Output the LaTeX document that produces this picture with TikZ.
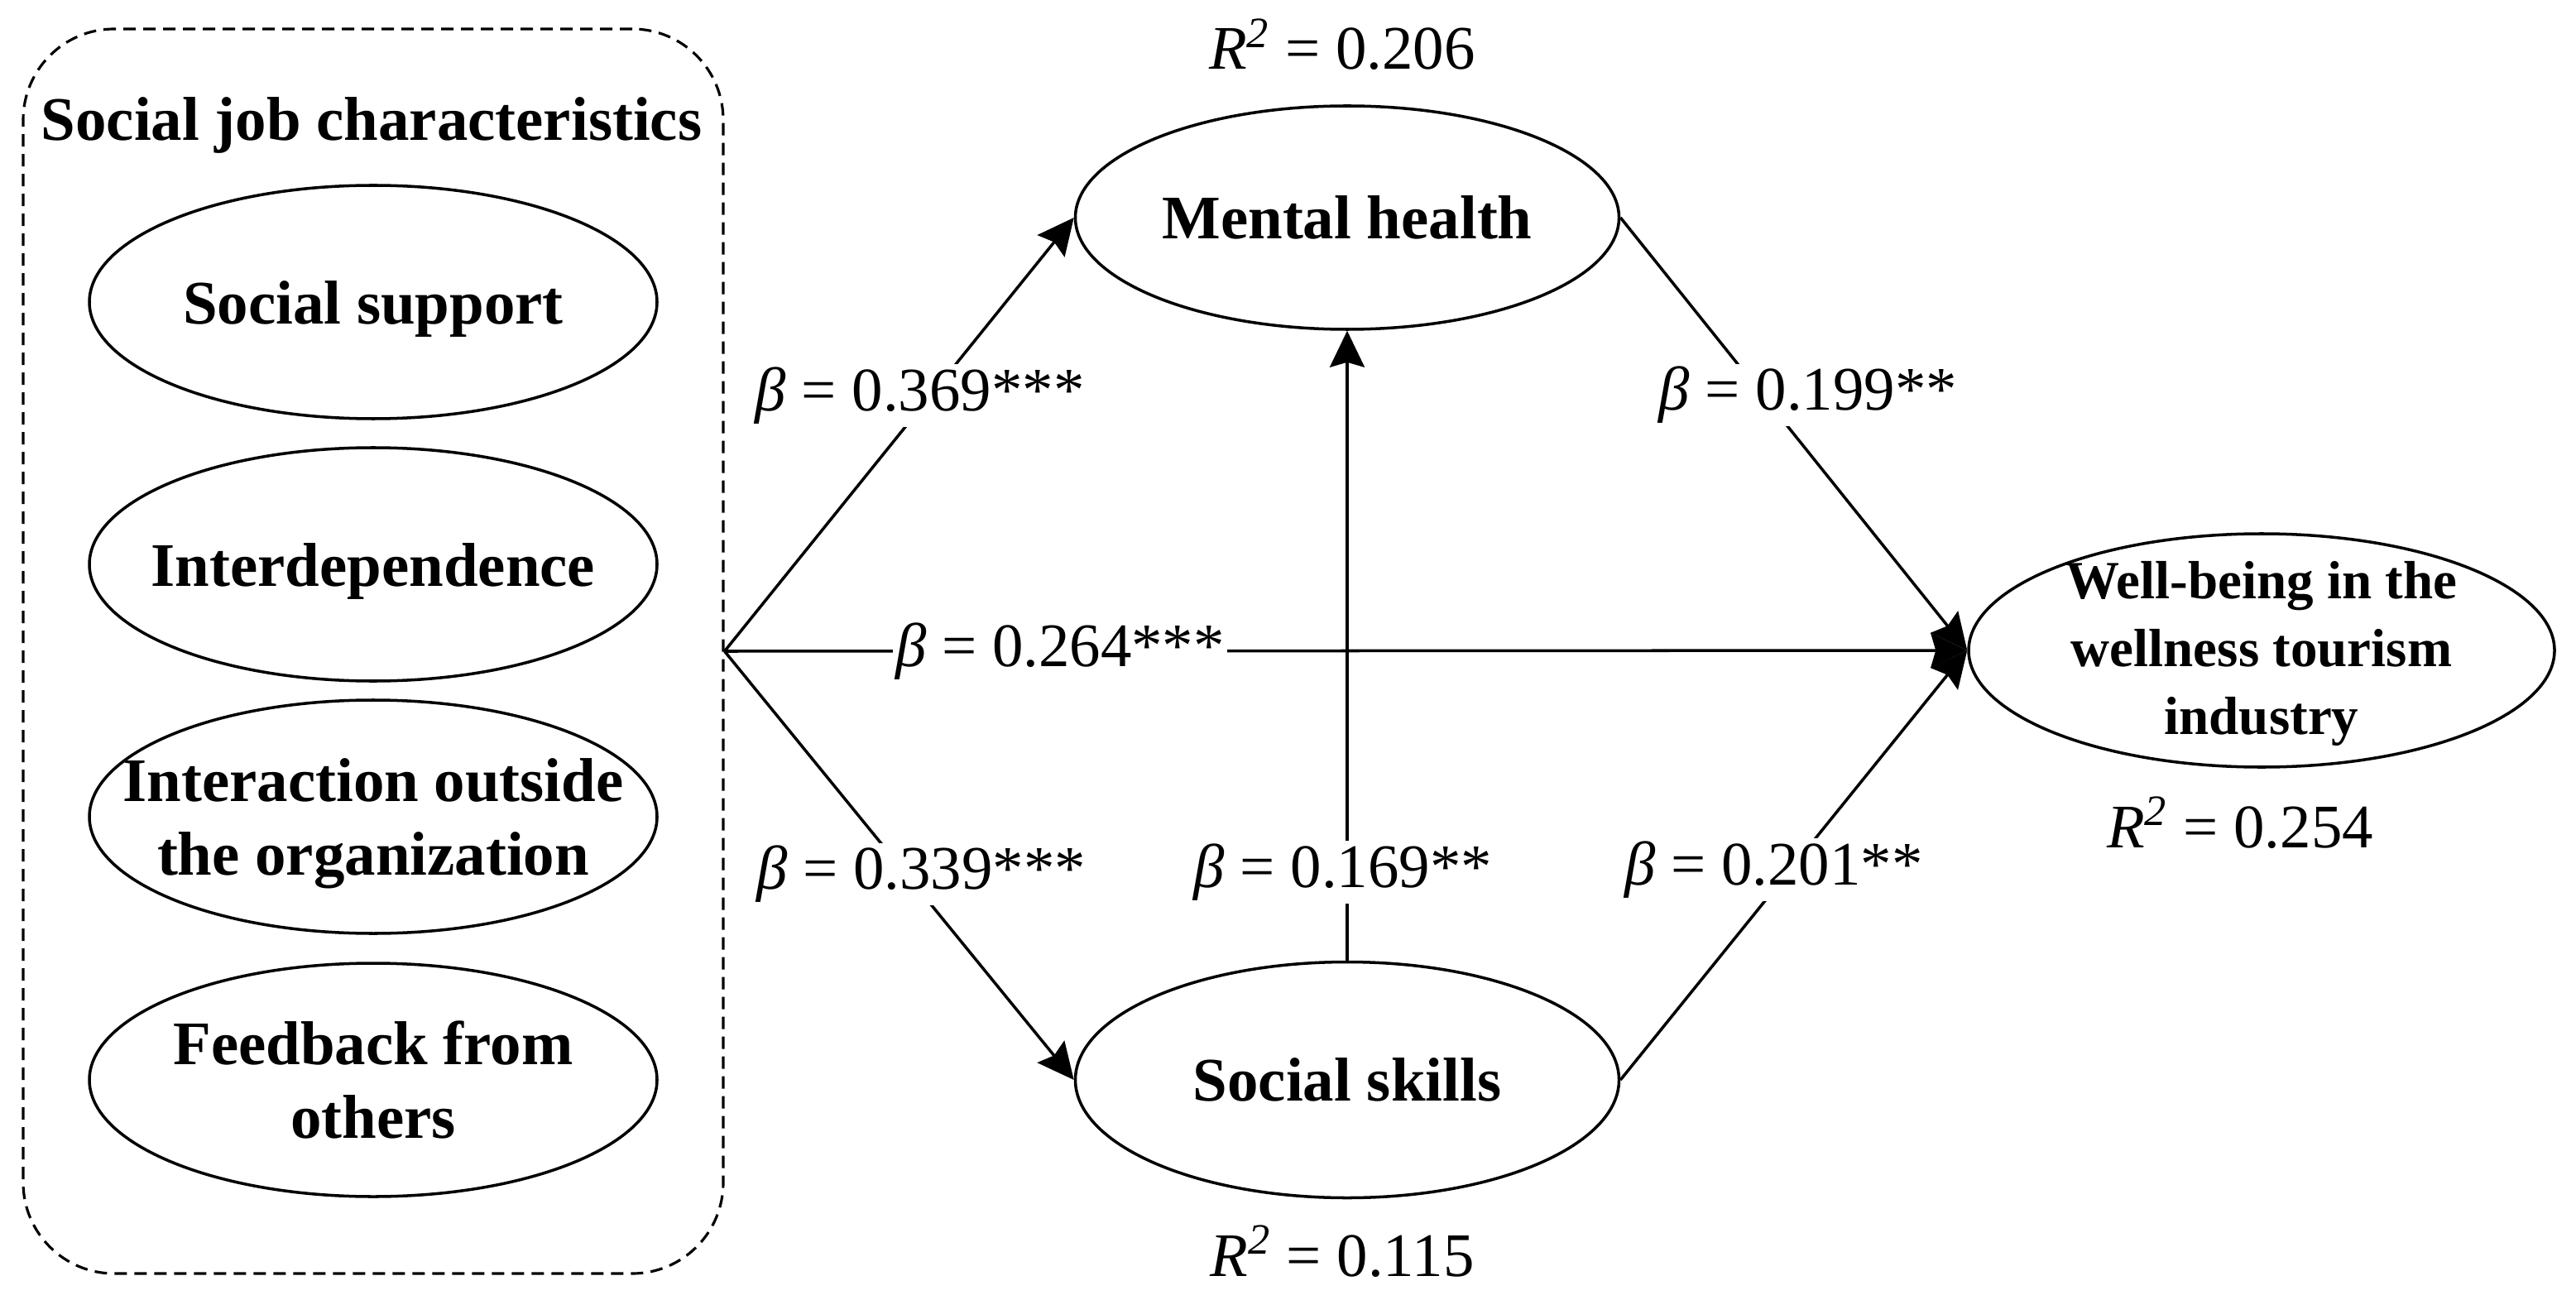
\documentclass[tikz,border=0pt]{standalone}
\usepackage{fontspec}
\setmainfont{Liberation Serif}
\usetikzlibrary{shapes.geometric,arrows.meta}

\tikzset{
  var/.style={draw,ellipse,line width=1pt,inner sep=0pt},
  vtext/.style={align=center,inner sep=0pt,font=\bfseries\fontsize{21.3}{25.3}\selectfont},
  coef/.style={fill=white,inner sep=1pt,font=\fontsize{21.3}{25}\selectfont},
  link/.style={line width=1pt,-{Stealth[length=4.4mm,width=4.2mm,inset=0.6mm]}}
}

\begin{document}
\begin{tikzpicture}
   \useasboundingbox (0,0) rectangle (31.13,-15.71);
   % dashed group of the job characteristics
   \node[draw,line width=0.9pt,dash pattern=on 0.15cm off 0.09cm,rounded corners=1.1cm,
     minimum width=8.46cm,minimum height=15.04cm] (group) at (4.51,-7.87) {};
   \node[font=\bfseries\fontsize{21.3}{25}\selectfont,anchor=base] (title) at (4.49,-1.70)
     {Social job characteristics};
   \node[var,minimum width=6.86cm,minimum height=2.82cm,
     label={[vtext,yshift=-0.8mm]center:Social support}] (supp) at (4.51,-3.65) {};
   \node[var,minimum width=6.86cm,minimum height=2.82cm,
     label={[vtext,yshift=-0.8mm]center:Interdependence}] (inter) at (4.51,-6.82) {};
   \node[var,minimum width=6.86cm,minimum height=2.82cm,
     label={[vtext,yshift=-0.8mm]center:{Interaction outside\\the organization}}] (outs) at (4.51,-9.87) {};
   \node[var,minimum width=6.86cm,minimum height=2.82cm,
     label={[vtext]center:{Feedback from\\others}}] (feed) at (4.51,-13.05) {};
   % mediators and outcome
   \node[var,minimum width=6.57cm,minimum height=2.70cm,
     label={[vtext]center:Mental health}] (mh) at (16.28,-2.63) {};
   \node[var,minimum width=6.57cm,minimum height=2.85cm,
     label={[vtext]center:Social skills}] (sk) at (16.28,-13.05) {};
   \node[var,minimum width=7.08cm,minimum height=2.82cm,
     label={[vtext,font=\bfseries\fontsize{18.5}{23.3}\selectfont,yshift=-0.4mm]center:{Well-being in the\\wellness tourism\\industry}}]
     (wb) at (27.33,-7.86) {};
   \node[anchor=base,font=\fontsize{21.3}{25}\selectfont] (r2mh) at (16.22,-0.84)
     {\textit{R\textsuperscript{2}} = 0.206};
   \node[anchor=base,font=\fontsize{21.3}{25}\selectfont] (r2sk) at (16.22,-15.42)
     {\textit{R\textsuperscript{2}} = 0.115};
   \node[anchor=base,font=\fontsize{21.3}{25}\selectfont] (r2wb) at (27.07,-10.24)
     {\textit{R\textsuperscript{2}} = 0.254};
   % paths
   \draw[link] (group.east) -- node[coef,pos=.59,xshift=-1.3mm]{\textit{β} = 0.369***} (mh.west);
   \draw[link] (group.east) -- node[coef,pos=.52,xshift=1.8mm]{\textit{β} = 0.339***} (sk.west);
   \draw[link] (group.east) -- node[coef,pos=.27]{\textit{β} = 0.264***} (wb.west);
   \draw[link] (sk.north) -- node[coef,pos=.14,xshift=-0.5mm]{\textit{β} = 0.169**} (mh.south);
   \draw[link] (mh.east) -- node[coef,pos=.41,xshift=5.5mm]{\textit{β} = 0.199**} (wb.west);
   \draw[link] (sk.east) -- node[coef,pos=.49,xshift=-2mm]{\textit{β} = 0.201**} (wb.west);
\end{tikzpicture}
\end{document}
